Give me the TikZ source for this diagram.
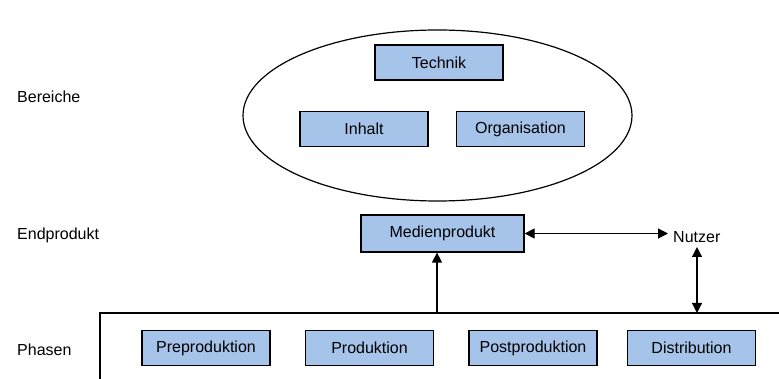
\documentclass[tikz,border=0pt]{standalone}
\usepackage{fontspec}
\setmainfont{Liberation Sans}
\usetikzlibrary{shapes.geometric,arrows.meta}
\definecolor{boxblue}{HTML}{A6C3EA}
\tikzset{
  every picture/.style={x=1pt,y=-1pt},
  txt/.style={font=\fontsize{16}{19}\selectfont, inner sep=0pt},
  item/.style={draw=black, line width=1.2pt, fill=boxblue, minimum width=128pt,
    minimum height=35pt, inner sep=0pt, font=\fontsize{16}{19}\selectfont},
  link/.style={line width=1.2pt, -{Triangle[length=10pt,width=10pt]}},
  link2/.style={line width=1.2pt, {Triangle[length=10pt,width=10pt]}-{Triangle[length=10pt,width=10pt]}},
}
\begin{document}
\begin{tikzpicture}
\useasboundingbox (0,0) rectangle (779,379);
\clip (0,0) rectangle (779,379);

% row labels
\node[txt, anchor=west] (lbereiche) at (17,97) {Bereiche};
\node[txt, anchor=west] (lendprodukt) at (17,235) {Endprodukt};
\node[txt, anchor=west] (lphasen) at (17,350) {Phasen};

% areas inside the ellipse
\node[draw=black, line width=1.2pt, ellipse, minimum width=389pt, minimum height=171pt, inner sep=0pt] (areas) at (437.5,115.5) {};
\node[item] (technik) at (439,62.5) {Technik};
\node[item] (inhalt) at (364,129) {Inhalt};
\node[item] (orga) at (520.5,129) {Organisation};

% end product and user
\node[item, minimum width=163pt, minimum height=37pt] (medien) at (442.5,233.5) {Medienprodukt};
\node[txt, anchor=west] (nutzer) at (673,237) {Nutzer};
\coordinate (nutzerbase) at (697,247);

% phases frame
\coordinate (frametop) at (437,313);
\coordinate (userdrop) at (697,313);
\draw[line width=1.2pt] (100,385) -- (100,313) -- (790,313);
\node[item] (pre) at (206,348) {Preproduktion};
\node[item] (prod) at (369.5,348) {Produktion};
\node[item] (post) at (533,348) {Postproduktion};
\node[item] (dist) at (691.5,348) {Distribution};

% connectors
\draw[link] (frametop) -- (frametop |- medien.south);
\draw[link2] (medien.east) -- (668,233.5);
\draw[link2] (nutzerbase) -- (userdrop);
\end{tikzpicture}
\end{document}
